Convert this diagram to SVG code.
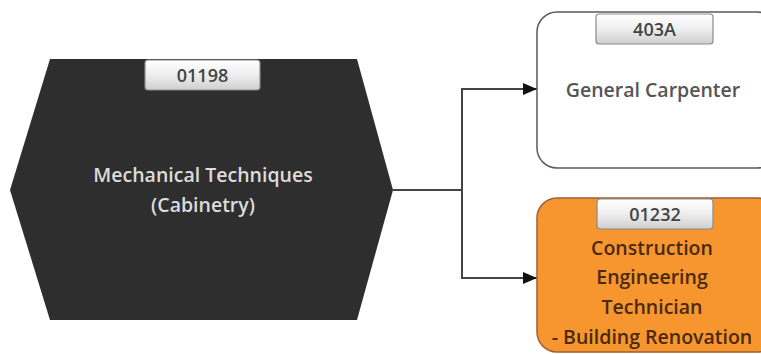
<svg xmlns="http://www.w3.org/2000/svg" width="761" height="354" viewBox="0 0 761 354">
<defs>
<linearGradient id="lab" x1="0" y1="0" x2="0" y2="1">
<stop offset="0" stop-color="#ffffff"/>
<stop offset="0.5" stop-color="#eeeeee"/>
<stop offset="1" stop-color="#cfcfcf"/>
</linearGradient>
<marker id="arr" markerWidth="14" markerHeight="12" refX="14" refY="6" orient="auto" markerUnits="userSpaceOnUse">
<path d="M0,0 L14,6 L0,12 Z" fill="#111"/>
</marker>
<style>
.lab{fill:url(#lab);stroke:#8a8a8a;stroke-width:1.2}
.labt{font-family:"Open Sans","Liberation Sans",sans-serif;font-size:18px;font-weight:600;fill:#444;text-anchor:middle}
.t{font-family:"Open Sans","Liberation Sans",sans-serif;font-size:19.5px;font-weight:600;text-anchor:middle}
.conn{fill:none;stroke:#444;stroke-width:2}
</style>
</defs>
<rect width="761" height="354" fill="#ffffff"/>
<g id="connectors">
<path class="conn" d="M393,190 H462 V89 H537" marker-end="url(#arr)"/>
<path class="conn" d="M462,190 V278 H537" marker-end="url(#arr)"/>
</g>
<g id="node-01198">
<polygon points="50,59 357,59 393,190 357,320 50,320 10,190" fill="#2e2e2e"/>
<rect class="lab" x="145" y="60" width="115" height="30" rx="3"/>
<text class="labt" x="202.5" y="81.5">01198</text>
<text class="t" x="203" y="182" fill="#dcdcdc">Mechanical Techniques</text>
<text class="t" x="203" y="212" fill="#dcdcdc">(Cabinetry)</text>
</g>
<g id="node-403A">
<rect x="537" y="12" width="240" height="156" rx="20" fill="#ffffff" stroke="#5a5a5a" stroke-width="1.5"/>
<rect class="lab" x="596" y="14" width="117" height="30" rx="3"/>
<text class="labt" x="654.5" y="35.5">403A</text>
<text class="t" x="653" y="97" fill="#555">General Carpenter</text>
</g>
<g id="node-01232">
<rect x="537" y="198" width="240" height="154" rx="20" fill="#f7962f" stroke="#a06030" stroke-width="1.5"/>
<rect class="lab" x="597" y="199" width="116" height="30" rx="3"/>
<text class="labt" x="655" y="220.5">01232</text>
<text class="t" x="652" y="255" fill="#4a2a0c">Construction</text>
<text class="t" x="652" y="284" fill="#4a2a0c">Engineering</text>
<text class="t" x="652" y="314" fill="#4a2a0c">Technician</text>
<text class="t" x="652" y="344" fill="#4a2a0c">- Building Renovation</text>
</g>
</svg>
